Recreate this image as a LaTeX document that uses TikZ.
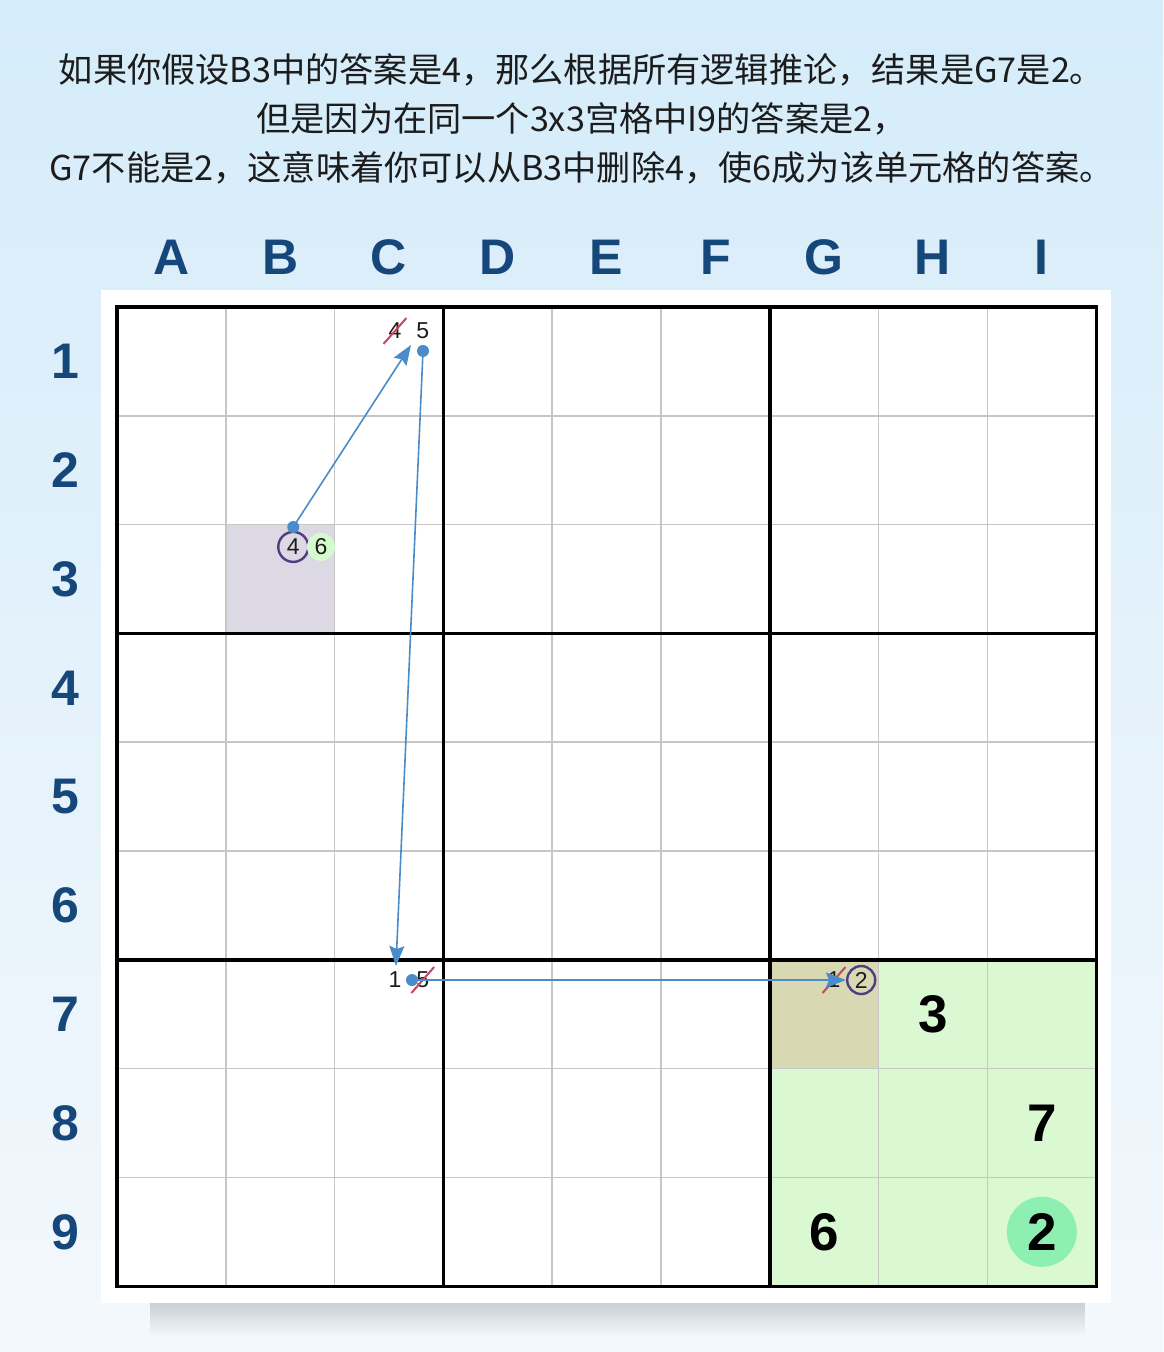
\documentclass[tikz,border=0pt]{standalone}
\usepackage{fontspec}
\setmainfont{Liberation Sans}
\newfontfamily\cjk{Noto Sans CJK SC}
\usetikzlibrary{arrows.meta}
\usetikzlibrary{fadings}
\definecolor{bgtop}{HTML}{D5ECFA}
\definecolor{bgbot}{HTML}{F3F8FC}
\definecolor{labelblue}{HTML}{15477A}
\definecolor{linkblue}{HTML}{4A8BC9}
\definecolor{strikered}{HTML}{C8465E}
\definecolor{ringpurple}{HTML}{4E3D80}
\definecolor{boxgreen}{HTML}{DAF8D2}
\definecolor{assumegray}{HTML}{DCD8E4}
\definecolor{khaki}{HTML}{D8D9B2}
\definecolor{palegreen}{HTML}{D6FAD0}
\definecolor{solvedgreen}{HTML}{8DF0B2}
\definecolor{gridgray}{HTML}{C6C6C6}
\definecolor{ink}{HTML}{1C1C1C}

\tikzset{
  title/.style={align=center, text=ink, font=\cjk\fontsize{17.1}{24.5}\selectfont},
  axislabel/.style={text=labelblue, font=\fontsize{25}{25}\selectfont\bfseries},
  given/.style={text=black, font=\fontsize{26.5}{26.5}\selectfont\bfseries},
  cand/.style={text=ink, inner sep=0pt, font=\fontsize{11.5}{11.5}\selectfont},
  ring/.style={cand, circle, draw=ringpurple, line width=1.2pt, minimum size=15pt},
  struck/.style={cand, inner sep=2.3pt},
  strike/.style={strikered, line width=1pt},
  link/.style={linkblue, line width=0.8pt, -{Stealth[length=10pt,width=7.5pt,inset=1.5pt]}},
  thinline/.style={gridgray, line width=0.75pt},
  boxline/.style={black, line width=1.7pt}
}

\begin{document}
\begin{tikzpicture}[x=0.5pt, y=-0.5pt]
  \useasboundingbox (0,0) rectangle (1163,1352);
  % backdrop and panel
  \fill[top color=bgtop, bottom color=bgbot] (0,0) rectangle (1163,1352);
  \fill[black, opacity=0.16, path fading=south] (150,1303) rectangle (1085,1336);
  \fill[white] (101,290) rectangle (1111,1303);

  \node[title] (header) at (581.5,119)
    {如果你假设B3中的答案是4，那么根据所有逻辑推论，结果是G7是2。\\
     但是因为在同一个3x3宫格中I9的答案是2，\\
     G7不能是2，这意味着你可以从B3中删除4，使6成为该单元格的答案。};

  \begin{scope}[shift={(117,307)}, x=54.4pt, y=-54.4pt]
    % shaded cells
    \fill[boxgreen] (6,6) rectangle (9,9);
    \fill[khaki] (6,6) rectangle (7,7);
    \fill[assumegray] (1,2) rectangle (2,3);

    % grid
    \foreach \i in {1,2,4,5,7,8} {
      \draw[thinline] (\i,0) -- (\i,9);
      \draw[thinline] (0,\i) -- (9,\i);
    }
    \foreach \i in {3,6} {
      \draw[boxline] (\i,0) -- (\i,9);
      \draw[boxline] (0,\i) -- (9,\i);
    }
    \draw[boxline] (0,0) rectangle (9,9);

    % labels
    \foreach \c [count=\i] in {A,B,C,D,E,F,G,H,I}
      \node[axislabel] (col\c) at (\i-0.5,-0.46) {\c};
    \foreach \r in {1,...,9}
      \node[axislabel] (row\r) at (-0.47,\r-0.5) {\r};

    % givens
    \node[given] (h7) at (7.5,6.5) {3};
    \node[given] (i8) at (8.5,7.5) {7};
    \node[given] (g9) at (6.5,8.5) {6};
    \node[circle, fill=solvedgreen, minimum size=35pt] (i9ring) at (8.5,8.5) {};
    \node[given] (i9) at (8.5,8.5) {2};

    % candidates
    \node[struck] (c1four) at (2.555,0.22) {4};
    \node[cand] (c1five) at (2.81,0.22) {5};
    \node[ring] (b3four) at (1.62,2.205) {4};
    \node[cand, circle, fill=palegreen, minimum size=14pt] (b3six) at (1.875,2.205) {6};
    \node[cand] (c7one) at (2.555,6.186) {1};
    \node[struck] (c7five) at (2.81,6.186) {5};
    \node[struck] (g7one) at (6.59,6.186) {1};
    \node[ring, minimum size=14pt] (g7two) at (6.84,6.186) {2};

    \draw[strike] (c1four.south west) -- (c1four.north east);
    \draw[strike] (c7five.south west) -- (c7five.north east);
    \draw[strike] (g7one.south west) -- (g7one.north east);

    % chain of links
    \coordinate (b3dot) at (1.62,2.022);
    \coordinate (c1tip) at (2.702,0.349);
    \coordinate (c1dot) at (2.8125,0.404);
    \coordinate (c7tip) at (2.564,6.057);
    \coordinate (c7dot) at (2.711,6.186);
    \draw[link] (b3dot) -- (c1tip);
    \draw[link] (c1dot) -- (c7tip);
    \draw[link] (c7dot) -- (g7two.west);
    \foreach \p in {b3dot,c1dot,c7dot}
      \fill[linkblue] (\p) circle (3pt);
  \end{scope}
\end{tikzpicture}
\end{document}
